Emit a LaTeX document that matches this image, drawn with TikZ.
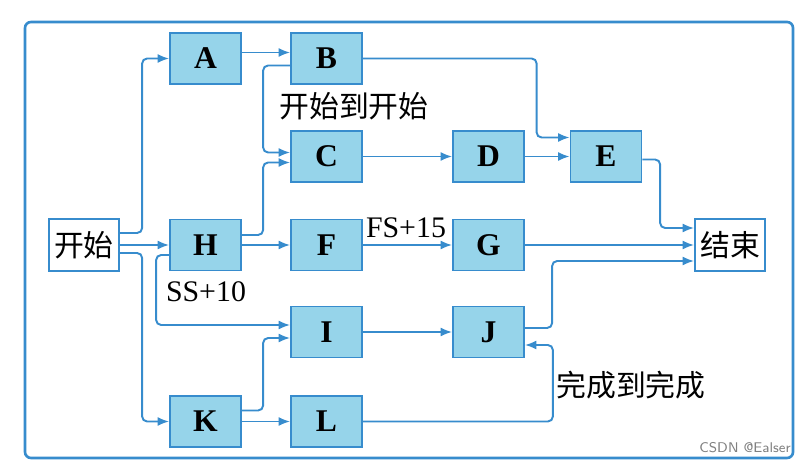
\documentclass[tikz,border=0pt]{standalone}
\usepackage{fontspec}
\setmainfont{Liberation Serif}
\newfontfamily\cjk{Noto Sans CJK SC}
\usetikzlibrary{arrows.meta,calc,positioning}

\definecolor{boxfill}{RGB}{150,212,234}
\definecolor{lineblue}{RGB}{55,140,205}

\begin{document}
\begin{tikzpicture}[
  x=0.02cm,
  y=-0.02cm,
  >={Latex[length=0.23cm,width=0.18cm]},
  task/.style={draw=lineblue, fill=boxfill, line width=1pt, minimum width=1.42cm, minimum height=1.02cm, inner sep=0pt, font=\fontsize{18}{20}\selectfont\bfseries},
  term/.style={draw=lineblue, fill=white, line width=1pt, minimum width=1.40cm, minimum height=1.04cm, inner sep=0pt, font=\fontsize{17}{20}\selectfont\cjk},
  link/.style={draw=lineblue, line width=1.1pt, rounded corners=0.1cm, ->},
  lbl/.style={font=\fontsize{17}{20}\selectfont, inner sep=0pt},
  frame/.style={draw=lineblue, line width=1.5pt, rounded corners=0.12cm}
]
  \useasboundingbox (0,0) rectangle (798,462);
  \draw[frame] (25,22) rectangle (793,458);

  \node[task] (A) at (205.5, 58.5) {A};
  \node[task] (B) at (326.5, 58.5) {B};
  \node[task] (C) at (326.5,156.5) {C};
  \node[task] (D) at (488.5,156.5) {D};
  \node[task] (E) at (606,  156.5) {E};

  \node[term] (start) at (84, 245) {开始};
  \node[task] (H) at (205.5,245) {H};
  \node[task] (F) at (326.5,245) {F};
  \node[task] (G) at (488.5,245) {G};
  \node[term] (finish) at (730,245) {结束};

  \node[task] (I) at (326.5,332) {I};
  \node[task] (J) at (488.5,332) {J};
  \node[task] (K) at (205.5,421.5) {K};
  \node[task] (L) at (326.5,421.5) {L};

  \node[lbl, font=\fontsize{17}{20}\selectfont\cjk] (ssLbl) at (354,106) {开始到开始};
  \node[lbl] (ss10Lbl) at (206,292) {SS+10};
  \node[lbl] (fs15Lbl) at (406,228) {FS+15};
  \node[lbl, font=\fontsize{17}{20}\selectfont\cjk] (ffLbl) at (631,385) {完成到完成};
  \node[font=\sffamily\fontsize{8}{9}\selectfont, text=gray] (mark) at (745,448) {CSDN @Ealser};

  % from start
  \draw[link] ($(start.east)+(0,-12)$) -| ($(A.west)+(-27,0)$) -- (A.west);
  \draw[link] (start.east) -- (H.west);
  \draw[link] ($(start.east)+(0,8)$) -| ($(K.west)+(-27,0)$) -- (K.west);

  % upper rows
  \draw[link] ($(A.east)+(0,-6)$) -- ($(B.west)+(0,-6)$);
  \draw[link] ($(B.west)+(0,7)$) -| ($(C.west)+(-27,-4)$) -- ($(C.west)+(0,-4)$);
  \draw[link] ($(H.east)+(0,-10)$) -| ($(C.west)+(-27,6)$) -- ($(C.west)+(0,6)$);
  \draw[link] (C.east) -- (D.west);
  \draw[link] (D.east) -- (E.west);
  \draw[link] (B.east) -| ($(E.west)+(-33,-19)$) -- ($(E.west)+(0,-19)$);
  \draw[link] ($(E.east)+(0,3)$) -| ($(finish.west)+(-34,-17)$) -- ($(finish.west)+(0,-17)$);

  % middle row
  \draw[link] (H.east) -- (F.west);
  \draw[link] (F.east) -- (G.west);
  \draw[link] (G.east) -- (finish.west);
  \draw[link] ($(H.west)+(0,10)$) -| ($(I.west)+(-134,-7)$) -- ($(I.west)+(0,-7)$);

  % lower rows
  \draw[link] ($(K.east)+(0,-11)$) -| ($(I.west)+(-27,6)$) -- ($(I.west)+(0,6)$);
  \draw[link] (K.east) -- (L.west);
  \draw[link] (I.east) -- (J.west);
  \draw[link] ($(J.east)+(0,-4)$) -| ($(finish.west)+(-142,16)$) -- ($(finish.west)+(0,16)$);
  \draw[link] (L.east) -| ($(J.east)+(28,13)$) -- ($(J.east)+(0,13)$);
\end{tikzpicture}
\end{document}
